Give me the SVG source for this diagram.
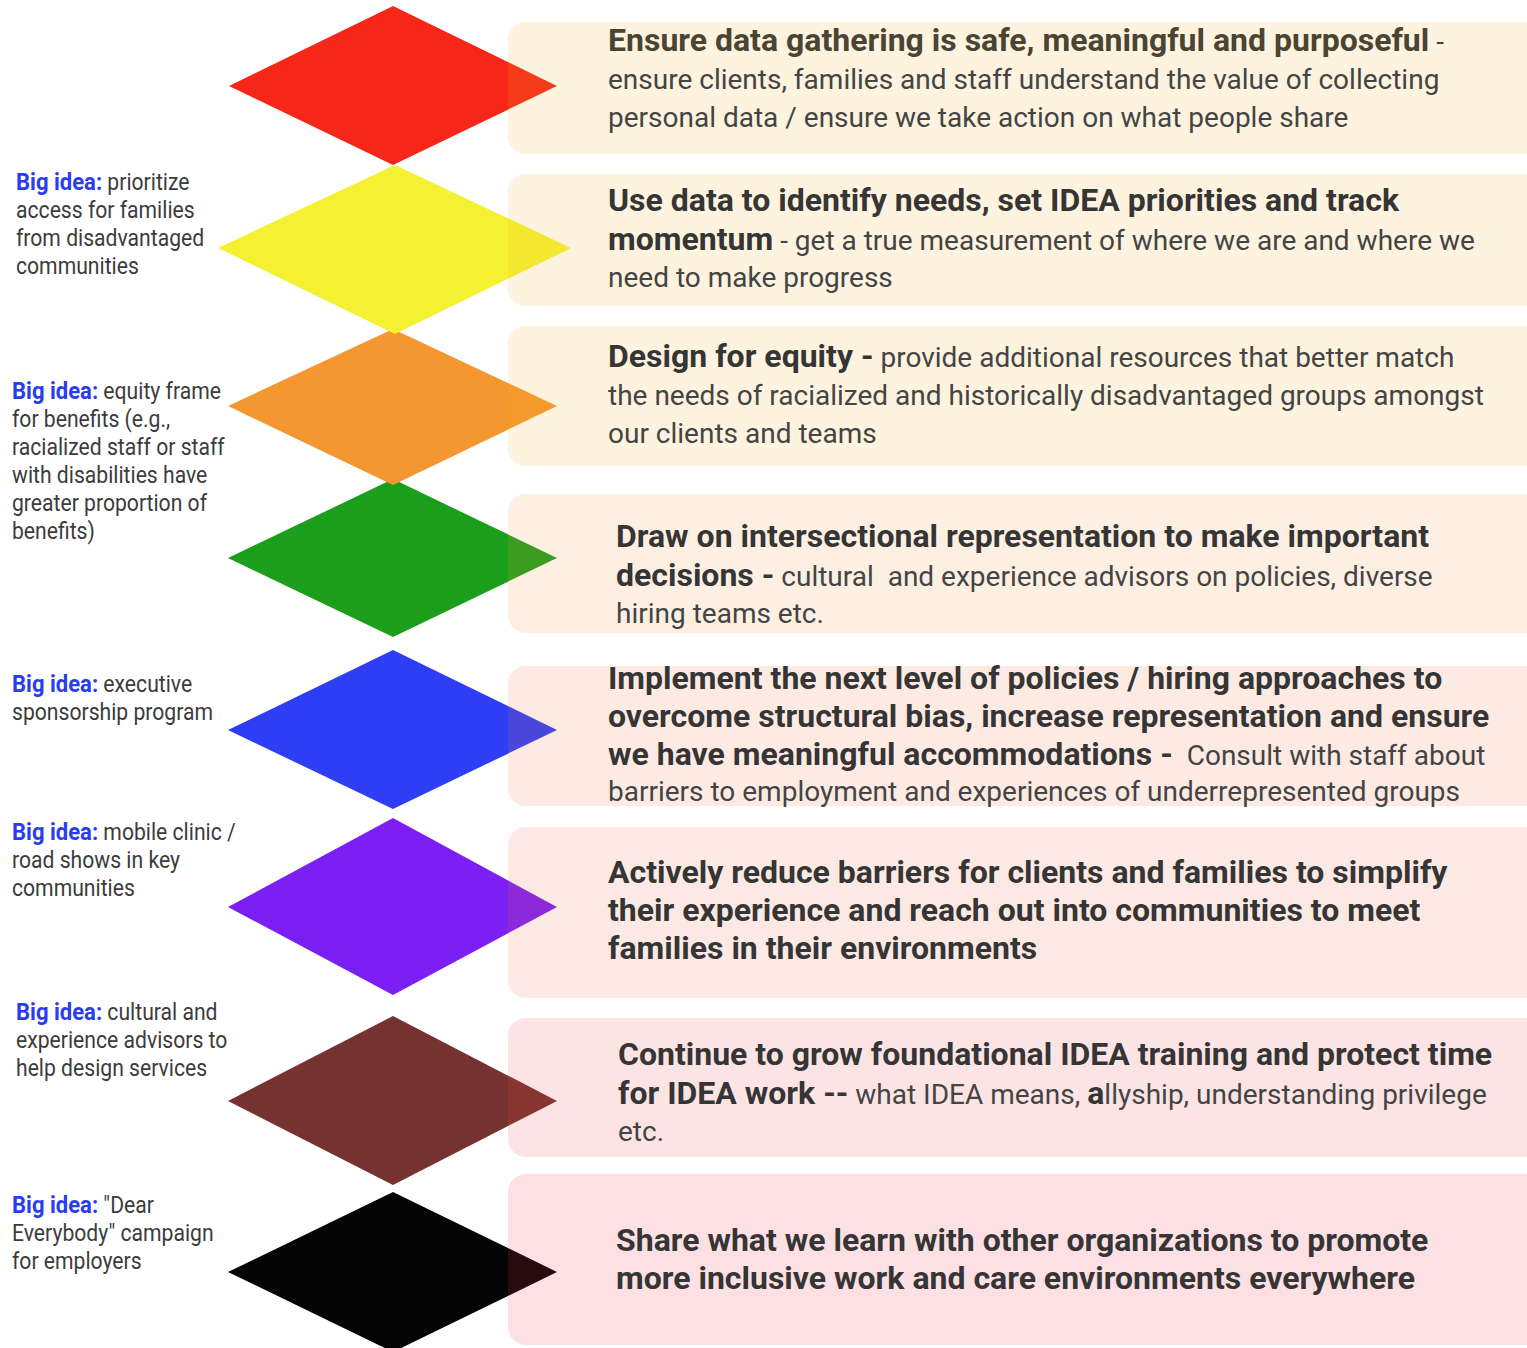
<svg xmlns="http://www.w3.org/2000/svg" width="1527" height="1348" viewBox="0 0 1527 1348">
<style>
.t{font-family:Roboto,"Liberation Sans",sans-serif;font-size:28px;fill:#444444;white-space:pre}
.b{font-weight:bold;font-size:32px;fill:#353535}
.b1{font-weight:bold;font-size:32px;fill:#4a4433}
.l{font-family:Roboto,"Liberation Sans",sans-serif;font-size:23.5px;fill:#3c3c3c}
.bi{font-weight:bold;font-size:24.5px;fill:#2a3cf2}
.box{stroke:none}
</style>
<rect width="1527" height="1348" fill="#ffffff"/>
<g id="diamonds">
<polygon id="d8" points="393,1192 557,1272 393,1352 228,1272" fill="#050505"/>
<polygon id="d7" points="393,1016 557,1101 393,1185 228,1101" fill="#763230"/>
<polygon id="d6" points="393,818 557,907 393,995 228,907" fill="#7b1ff4"/>
<polygon id="d5" points="393,650 557,730 393,809 228,730" fill="#2d3ef4"/>
<polygon id="d4" points="393,479 557,558 393,637 228,558" fill="#1b9e1b"/>
<polygon id="d3" points="393,329 557,406 393,485 228,406" fill="#f59730"/>
<polygon id="d2" points="395,165 571,248 395,334 218,248" fill="#f4f133"/>
<polygon id="d1" points="393,6 557,86 393,165 229,86" fill="#f62718"/>
</g>
<g id="connectors"/>
<g id="box1">
<rect class="box" x="508" y="22" width="1040" height="132" rx="18" fill="#f2af23" fill-opacity="0.15"/>
<text class="t" x="608" y="51"><tspan class="b1">Ensure data gathering is safe, meaningful and purposeful</tspan> -</text>
<text class="t" x="608" y="89">ensure clients, families and staff understand the value of collecting</text>
<text class="t" x="608" y="127">personal data / ensure we take action on what people share</text>
</g>
<g id="box2">
<rect class="box" x="508" y="174" width="1040" height="132" rx="18" fill="#f2af23" fill-opacity="0.15"/>
<text class="t" x="608" y="211"><tspan class="b">Use data to identify needs, set IDEA priorities and track</tspan></text>
<text class="t" x="608" y="250"><tspan class="b">momentum</tspan> - get a true measurement of where we are and where we</text>
<text class="t" x="608" y="287">need to make progress</text>
</g>
<g id="box3">
<rect class="box" x="508" y="326" width="1040" height="140" rx="18" fill="#f2af23" fill-opacity="0.15"/>
<text class="t" x="608" y="367"><tspan class="b">Design for equity -</tspan> provide additional resources that better match</text>
<text class="t" x="608" y="405">the needs of racialized and historically disadvantaged groups amongst</text>
<text class="t" x="608" y="443">our clients and teams</text>
</g>
<g id="box4">
<rect class="box" x="508" y="494" width="1040" height="139" rx="18" fill="#f29b44" fill-opacity="0.15"/>
<text class="t" x="616" y="547"><tspan class="b">Draw on intersectional representation to make important</tspan></text>
<text class="t" x="616" y="586"><tspan class="b">decisions -</tspan> cultural  and experience advisors on policies, diverse</text>
<text class="t" x="616" y="623">hiring teams etc.</text>
</g>
<g id="box5">
<rect class="box" x="508" y="666" width="1040" height="140" rx="18" fill="#f27a44" fill-opacity="0.15"/>
<text class="t" x="608" y="689"><tspan class="b">Implement the next level of policies / hiring approaches to</tspan></text>
<text class="t" x="608" y="727"><tspan class="b">overcome structural bias, increase representation and ensure</tspan></text>
<text class="t" x="608" y="765"><tspan class="b">we have meaningful accommodations -</tspan>  Consult with staff about</text>
<text class="t" x="608" y="801">barriers to employment and experiences of underrepresented groups</text>
</g>
<g id="box6">
<rect class="box" x="508" y="827" width="1040" height="171" rx="18" fill="#f26c44" fill-opacity="0.15"/>
<text class="t" x="608" y="883"><tspan class="b">Actively reduce barriers for clients and families to simplify</tspan></text>
<text class="t" x="608" y="921"><tspan class="b">their experience and reach out into communities to meet</tspan></text>
<text class="t" x="608" y="959"><tspan class="b">families in their environments</tspan></text>
</g>
<g id="box7">
<rect class="box" x="508" y="1018" width="1040" height="139" rx="18" fill="#f24b4b" fill-opacity="0.15"/>
<text class="t" x="618" y="1065"><tspan class="b">Continue to grow foundational IDEA training and protect time</tspan></text>
<text class="t" x="618" y="1104"><tspan class="b">for IDEA work --</tspan> what IDEA means, <tspan class="b" font-size="28">a</tspan>llyship, understanding privilege</text>
<text class="t" x="618" y="1141">etc.</text>
</g>
<g id="box8">
<rect class="box" x="508" y="1174" width="1040" height="171" rx="18" fill="#f2304b" fill-opacity="0.15"/>
<text class="t" x="616" y="1251"><tspan class="b">Share what we learn with other organizations to promote</tspan></text>
<text class="t" x="616" y="1289"><tspan class="b">more inclusive work and care environments everywhere</tspan></text>
</g>
<g id="idea1" transform="translate(16 0) scale(0.9 1)">
<text class="l" x="0" y="190"><tspan class="bi">Big idea:</tspan> prioritize</text>
<text class="l" x="0" y="218">access for families</text>
<text class="l" x="0" y="246">from disadvantaged</text>
<text class="l" x="0" y="274">communities</text>
</g>
<g id="idea2" transform="translate(12 0) scale(0.9 1)">
<text class="l" x="0" y="399"><tspan class="bi">Big idea:</tspan> equity frame</text>
<text class="l" x="0" y="427">for benefits (e.g.,</text>
<text class="l" x="0" y="455">racialized staff or staff</text>
<text class="l" x="0" y="483">with disabilities have</text>
<text class="l" x="0" y="511">greater proportion of</text>
<text class="l" x="0" y="539">benefits)</text>
</g>
<g id="idea3" transform="translate(12 0) scale(0.9 1)">
<text class="l" x="0" y="692"><tspan class="bi">Big idea:</tspan> executive</text>
<text class="l" x="0" y="720">sponsorship program</text>
</g>
<g id="idea4" transform="translate(12 0) scale(0.9 1)">
<text class="l" x="0" y="840"><tspan class="bi">Big idea:</tspan> mobile clinic /</text>
<text class="l" x="0" y="868">road shows in key</text>
<text class="l" x="0" y="896">communities</text>
</g>
<g id="idea5" transform="translate(16 0) scale(0.9 1)">
<text class="l" x="0" y="1020"><tspan class="bi">Big idea:</tspan> cultural and</text>
<text class="l" x="0" y="1048">experience advisors to</text>
<text class="l" x="0" y="1076">help design services</text>
</g>
<g id="idea6" transform="translate(12 0) scale(0.9 1)">
<text class="l" x="0" y="1213"><tspan class="bi">Big idea:</tspan> "Dear</text>
<text class="l" x="0" y="1241">Everybody" campaign</text>
<text class="l" x="0" y="1269">for employers</text>
</g>
</svg>
